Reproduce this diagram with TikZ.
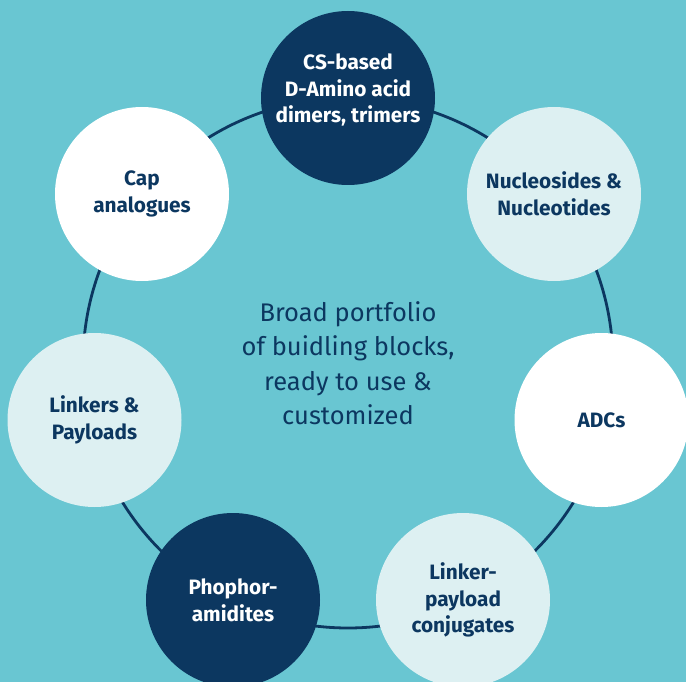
\documentclass[tikz,border=0pt]{standalone}
\usepackage{fontspec}
\setmainfont{Fira Sans}
\definecolor{bgteal}{HTML}{69C6D2}
\definecolor{navy}{HTML}{0C3760}
\definecolor{pale}{HTML}{DDF0F2}
\tikzset{
  labelfont/.style={font=\fontsize{20.8}{26.7}\selectfont\bfseries},
  item/.style={circle, minimum size=174pt, inner sep=0pt, align=center, labelfont},
  darkitem/.style={item, fill=navy, text=white},
  whiteitem/.style={item, fill=white, text=navy},
  paleitem/.style={item, fill=pale, text=navy},
  ring/.style={draw=navy, line width=2.8pt}
}
\begin{document}
\begin{tikzpicture}[x=1pt,y=-1pt]
\useasboundingbox (0,0) rectangle (686,682);
\clip (0,0) rectangle (686,682);
\fill[bgteal] (0,0) rectangle (686,682);
\coordinate (c) at (348,363);
\draw[ring] (c) circle[radius=265pt];
\node[darkitem] (cs) at (348,98) {};
\node[align=center, text=white, labelfont] (cstext) at (348,90) {CS-based\\D-Amino acid\\dimers, trimers};
\node[paleitem] (nuc) at (554,194) {Nucleosides \&\\Nucleotides};
\node[whiteitem] (adc) at (601.5,420) {ADCs};
\node[paleitem] (lpc) at (463,600) {Linker-\\payload\\conjugates};
\node[darkitem] (pho) at (233,600) {Phophor-\\amidites};
\node[paleitem] (lnk) at (94.5,420) {Linkers \&\\Payloads};
\node[whiteitem] (cap) at (142,194) {Cap\\analogues};
\node[align=center, text=navy, font=\fontsize{25.5}{34.5}\selectfont] (mid) at (c) {Broad portfolio\\of buidling blocks,\\ready to use \&\\customized};
\end{tikzpicture}
\end{document}
